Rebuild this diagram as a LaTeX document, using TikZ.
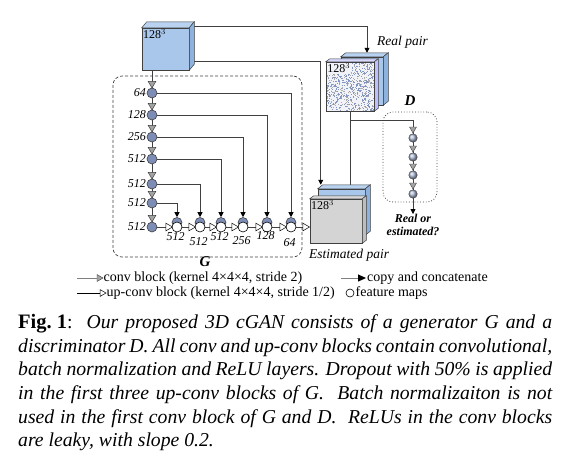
\documentclass[tikz,border=0pt]{standalone}
\usepackage{fontspec}
\setmainfont{Liberation Serif}
\usetikzlibrary{shapes.geometric,arrows.meta,backgrounds,calc}
\definecolor{linec}{HTML}{404040}
\definecolor{cubeblue}{HTML}{A9C7EB}
\definecolor{cubetop}{HTML}{B8D2F0}
\definecolor{cubeside}{HTML}{8EB2DE}
\definecolor{encblue}{HTML}{7D8DB6}
\definecolor{trigray}{HTML}{A3A3A3}
\definecolor{boxgray}{HTML}{D4D4D4}
\definecolor{boxgrayside}{HTML}{BDBDBD}
\definecolor{noisec}{HTML}{8294C0}
\definecolor{noiseb}{HTML}{F1F3F8}
\definecolor{dblue}{HTML}{AFBCD8}
\newcommand\cubefaces[5]{%
  \filldraw[fill=#4,draw=linec,line width=0.5pt] (#1.north west) -- ++(#2,-#3) -- ($(#1.north east)+(#2,-#3)$) -- (#1.north east) -- cycle;
  \filldraw[fill=#5,draw=linec,line width=0.5pt] (#1.north east) -- ++(#2,-#3) -- ($(#1.south east)+(#2,-#3)$) -- (#1.south east) -- cycle;}
\begin{document}
\begin{tikzpicture}[x=1pt,y=-1pt,
  face/.style={draw=linec,line width=0.5pt,inner sep=0pt},
  enc/.style={circle,draw=linec,fill=encblue,minimum size=10pt,inner sep=0pt,line width=0.6pt},
  ctri/.style={regular polygon,regular polygon sides=3,shape border rotate=180,draw=linec,fill=trigray,minimum size=9pt,inner sep=0pt,line width=0.5pt},
  utri/.style={regular polygon,regular polygon sides=3,shape border rotate=-90,draw=black,fill=white,minimum size=9pt,inner sep=0pt,line width=0.5pt},
  dec/.style={circle,draw=black,fill=white,minimum size=10pt,inner sep=0pt,line width=0.6pt},
  dball/.style={circle,draw=linec,ball color=dblue,minimum size=8.5pt,inner sep=0pt,line width=0.4pt},
  dtri/.style={regular polygon,regular polygon sides=3,shape border rotate=180,draw=linec,fill=trigray,minimum size=8pt,inner sep=0pt,line width=0.4pt},
  conn/.style={draw=linec,line width=0.8pt},
  arr/.style={draw=linec,line width=0.8pt,-{Triangle[length=5pt,width=5pt,color=black]}},
  lab/.style={font=\itshape\fontsize{12}{12}\selectfont,inner sep=0pt},
  dimlab/.style={font=\fontsize{12}{12}\selectfont,inner sep=1.2pt,anchor=north west},
  leg/.style={font=\fontsize{14}{14}\selectfont,inner sep=0pt,anchor=west},
  captxt/.style={font=\itshape\fontsize{19.7}{23}\selectfont,inner sep=0pt,anchor=base west}
]
\useasboundingbox (0,0) rectangle (564,459);

% ---------- input cube ----------
\node[face,fill=cubeblue,minimum width=47pt,minimum height=42pt] (in) at (165.5,49) {};
\cubefaces{in}{5}{6}{cubetop}{cubeside}
\node[dimlab] (inl) at (in.north west) {128$^3$};

% ---------- real pair ----------
\node[face,fill=cubeblue,minimum width=42pt,minimum height=48pt] (rb) at (362,81) {};
\cubefaces{rb}{5}{4}{cubetop}{cubeside}
\node[face,fill=noiseb,minimum width=48pt,minimum height=49pt] (rf) at (350,86.5) {};
\cubefaces{rf}{4}{3}{white!85!blue}{white!75!blue}
\begin{scope}
  \clip (rf.north west) rectangle (rf.south east);
  \pgfmathsetseed{11}
  \foreach \i in {1,...,480} {\fill[noisec] ({326+48*rnd},{62+49*rnd}) rectangle ++(1.1,1.1);}
  \foreach \i in {1,...,260} {\fill[gray!65] ({326+48*rnd},{62+49*rnd}) rectangle ++(0.9,0.9);}
\end{scope}
\draw[linec,line width=0.5pt] (rf.north west) rectangle (rf.south east);
\node[dimlab,fill=noiseb,inner sep=0.6pt] (rfl) at ([xshift=0.8pt,yshift=-0.8pt]rf.north west) {128$^3$};
\node[font=\itshape\fontsize{13.5}{13.5}\selectfont,anchor=west,inner sep=0pt] (rpl) at (377,42) {Real pair};

% ---------- estimated pair ----------
\node[face,fill=cubeblue,minimum width=47pt,minimum height=46pt] (eb) at (341.5,212) {};
\cubefaces{eb}{5}{4}{cubetop}{cubeside}
\node[face,fill=boxgray,minimum width=52pt,minimum height=44pt] (ef) at (336,221) {};
\cubefaces{ef}{4}{3}{boxgray!90!white}{boxgrayside}
\node[dimlab] (efl) at (ef.north west) {128$^3$};
\node[font=\itshape\fontsize{13.5}{13.5}\selectfont,anchor=west,inner sep=0pt] (epl) at (309,255) {Estimated pair};

% ---------- G box ----------
\node[draw=linec,line width=0.7pt,dash pattern=on 3pt off 2pt,rounded corners=9pt,minimum width=189pt,minimum height=181pt,inner sep=0pt] (gbox) at (207.5,166.5) {};
\node[font=\bfseries\itshape\fontsize{15}{15}\selectfont,inner sep=0pt] (glab) at (205,261.5) {G};

% encoder
\foreach \n/\y/\l in {1/93/64,2/115/128,3/137/256,4/159/512,5/184/512,6/203/512,7/227/512} {
  \node[enc] (e\n) at (152,\y) {};
  \node[ctri] (t\n) at (152,\y-9.5) {};
  \node[lab,anchor=east] (le\n) at (146,\y) {\l};
}
% decoder
\foreach \n/\x/\l/\ly in {1/177/512/237,2/200/512/242,3/221/512/237,4/243/256/241,5/267/128/236,6/291/64/243} {
  \node[enc] (c\n) at (\x,222.5) {};
  \node[dec] (d\n) at (\x,227) {};
  \node[utri] (u\n) at (\x-9,227) {};
  \node[lab] (ld\n) at (\x-1.5,\ly) {\l};
}
\node[utri] (fout) at (305,227) {};

% ---------- D ----------
\node[draw=linec,line width=0.8pt,dotted,rounded corners=10pt,minimum width=54pt,minimum height=90pt,inner sep=0pt] (dbox) at (410,157) {};
\node[font=\bfseries\itshape\fontsize{15}{15}\selectfont,inner sep=0pt] (dlab) at (410,101) {D};
\foreach \n/\yt/\yc in {1/129/138,2/148/157,3/166/175,4/185/194} {
  \node[dball] (dc\n) at (413,\yc) {};
  \node[dtri] (dt\n) at (413,\yt) {};
}
\coordinate (dout) at (413,214);
\coordinate (br) at (350,120);
\node[font=\bfseries\itshape\fontsize{12}{13}\selectfont,align=center,inner sep=0pt,anchor=north] (dq) at (413,214) {Real or\\estimated?};

% ---------- connectors (background) ----------
\begin{pgfonlayer}{background}
  \coordinate (inA) at ($(in.north east)+(5,-1)$);
  \coordinate (inB) at ($(in.east)+(5,12)$);
  \draw[arr] (inA) -| ($(rb.north)+(5,-4)$);
  \draw[arr] (inB) -| ($(eb.north west)+(3,-4)$);
  \draw[conn] (in.south -| e1) -- (e7.center);
  \draw[conn] (e7.center) -- (fout.center);
  \draw[arr] (e1.east) -| (c6.north);
  \draw[arr] (e2.east) -| (c5.north);
  \draw[arr] (e3.east) -| (c4.north);
  \draw[arr] (e4.east) -| (c3.north);
  \draw[arr] (e5.east) -| (c2.north);
  \draw[arr] (e6.east) -| (c1.north);
  \draw[conn] (rf.south) -- (rf.south |- eb.north);
  \draw[conn] (br) -| (dt1.center);
  \draw[conn] (dt1.center) -- (dc4.center);
  \draw[arr] (dc4.south) -- (dout);
\end{pgfonlayer}

% ---------- legend ----------
\coordinate (l1a) at (77,278);
\node[regular polygon,regular polygon sides=3,shape border rotate=-90,draw=linec,fill=trigray,minimum size=8pt,inner sep=0pt] (lt1) at (99,278) {};
\draw[draw=gray,line width=1pt] (l1a) -- (lt1.west);
\node[leg] (lg1) at (103.5,278) {conv block (kernel 4×4×4, stride 2)};
\coordinate (l2a) at (77,293);
\node[regular polygon,regular polygon sides=3,shape border rotate=-90,draw=black,fill=white,minimum size=8pt,inner sep=0pt,line width=0.5pt] (lt2) at (102,293) {};
\draw[draw=black,line width=0.8pt] (l2a) -- (lt2.west);
\node[leg] (lg2) at (106.5,293) {up-conv block (kernel 4×4×4, stride 1/2)};
\coordinate (l3a) at (341,278);
\coordinate (l3b) at (366,278);
\draw[draw=gray,line width=1pt,-{Triangle[length=8pt,width=7pt,color=black]}] (l3a) -- (l3b);
\node[leg] (lg3) at (367,278) {copy and concatenate};
\node[circle,draw=black,fill=white,minimum size=8pt,inner sep=0pt,line width=0.6pt] (lc) at (350,293) {};
\node[leg] (lg4) at (355.5,293) {feature maps};

% ---------- caption ----------
\node[captxt] (cap1) at (18,328) {\hbox to 534pt{\mbox{\upshape\bfseries\fontsize{20.5}{24}\selectfont Fig.~1}{\upshape:}\ \ Our proposed 3D cGAN consists of a generator G and a}};
\node[captxt] (cap2) at (18,352) {\hbox to 534pt{discriminator D. All conv and up-conv blocks contain convolutional,}};
\node[captxt] (cap3) at (18,375.5) {\hbox to 534pt{batch normalization and ReLU layers. Dropout with 50\% is applied}};
\node[captxt] (cap4) at (18,399) {\hbox to 534pt{in the first three up-conv blocks of G.\ \ Batch normalizaiton is not}};
\node[captxt] (cap5) at (18,423) {\hbox to 534pt{used in the first conv block of G and D.\ \ ReLUs in the conv blocks}};
\node[captxt] (cap6) at (18,446.5) {are leaky, with slope 0.2.};
\end{tikzpicture}
\end{document}
